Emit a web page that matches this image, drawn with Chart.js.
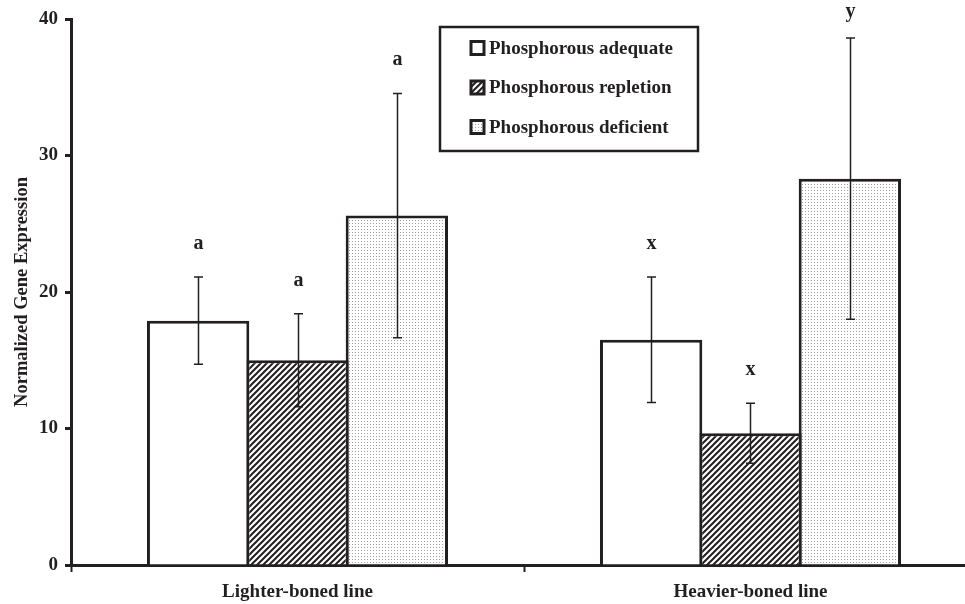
<!DOCTYPE html>
<html>
<head>
<meta charset="utf-8">
<script src="https://cdn.jsdelivr.net/npm/chart.js@4.4.1/dist/chart.umd.min.js"></script>
<style>
  html, body { margin: 0; padding: 0; background: #fff; overflow: hidden; }
  #wrap { width: 980px; height: 604px; }
</style>
</head>
<body>
<div id="wrap"><canvas id="geneChart" width="980" height="604"></canvas></div>
<script>
const categories = ["Lighter-boned line", "Heavier-boned line"];
const seriesNames = ["Phosphorous adequate", "Phosphorous repletion", "Phosphorous deficient"];
const adequateMeans = [17.9, 16.5];
const repletionMeans = [15.0, 9.65];
const deficientMeans = [25.6, 28.3];
const adequateErr = [3.2, 4.6];
const repletionErr = [3.4, 2.2];
const deficientErr = [8.95, 10.3];
const adequateLetters = ["a", "x"];
const repletionLetters = ["a", "x"];
const deficientLetters = ["a", "y"];
const yTicks = [0, 10, 20, 30, 40];

const ink = "#231f20";
const serif = "'Liberation Serif', 'DejaVu Serif', serif";

function makeHatch() {
    const c = document.createElement("canvas");
    c.width = 6; c.height = 6;
    const g = c.getContext("2d");
    g.fillStyle = "#fff";
    g.fillRect(0, 0, 6, 6);
    g.strokeStyle = ink;
    g.lineWidth = 2;
    g.beginPath();
    g.moveTo(-1, 7); g.lineTo(7, -1);
    g.moveTo(-1, 1); g.lineTo(1, -1);
    g.moveTo(5, 7); g.lineTo(7, 5);
    g.stroke();
    return document.createElement("canvas").getContext("2d").createPattern(c, "repeat");
}

function makeDots() {
    const c = document.createElement("canvas");
    c.width = 3; c.height = 3;
    const g = c.getContext("2d");
    g.fillStyle = "#fff";
    g.fillRect(0, 0, 3, 3);
    g.fillStyle = "rgba(0,0,0,0.38)";
    g.fillRect(1, 1, 1, 1);
    return document.createElement("canvas").getContext("2d").createPattern(c, "repeat");
}

const hatch = makeHatch();
const dots = makeDots();

const errorBars = {
    id: "errorBars",
    afterDatasetsDraw(chart) {
        const ctx = chart.ctx;
        const y = chart.scales.y;
        ctx.save();
        ctx.strokeStyle = ink;
        ctx.fillStyle = ink;
        ctx.lineWidth = 1.5;
        ctx.font = "bold 20px " + serif;
        ctx.textAlign = "center";
        ctx.textBaseline = "alphabetic";
        chart.data.datasets.forEach((ds, di) => {
            const meta = chart.getDatasetMeta(di);
            meta.data.forEach((bar, i) => {
                const hi = y.getPixelForValue(ds.data[i] + ds.err[i]);
                const lo = y.getPixelForValue(ds.data[i] - ds.err[i]);
                const x = Math.round(bar.x) + 0.5;
                ctx.beginPath();
                ctx.moveTo(x, hi); ctx.lineTo(x, lo);
                ctx.moveTo(x - 4.5, hi); ctx.lineTo(x + 4.5, hi);
                ctx.moveTo(x - 4.5, lo); ctx.lineTo(x + 4.5, lo);
                ctx.stroke();
                // keep the letter on the canvas when the bar reaches the top
                ctx.fillText(ds.letters[i], x, Math.max(hi - 28, 17));
            });
        });
        ctx.restore();
    }
};

const boxLegend = {
    id: "boxLegend",
    afterDraw(chart) {
        const ctx = chart.ctx;
        ctx.save();
        ctx.strokeStyle = ink;
        ctx.lineWidth = 2.5;
        ctx.fillStyle = "#fff";
        ctx.fillRect(440, 27, 258, 124);
        ctx.strokeRect(440, 27, 258, 124);
        ctx.font = "bold 19px " + serif;
        ctx.textBaseline = "middle";
        chart.data.datasets.forEach((ds, i) => {
            const cy = 48 + i * 39.5;
            ctx.fillStyle = ds.backgroundColor;
            ctx.fillRect(471, cy - 6.5, 13, 13);
            ctx.lineWidth = 3;
            ctx.strokeRect(471, cy - 6.5, 13, 13);
            ctx.fillStyle = ink;
            ctx.fillText(ds.label, 489, cy + 1);
        });
        ctx.restore();
    }
};

function series(label, data, err, letters, fill) {
    return {
        label: label,
        data: data,
        err: err,
        letters: letters,
        backgroundColor: fill,
        borderColor: ink,
        borderWidth: 3,
        borderSkipped: "bottom",
        categoryPercentage: 0.658,
        barPercentage: 1.03
    };
}

new Chart(document.getElementById("geneChart"), {
    type: "bar",
    data: {
        labels: categories,
        datasets: [
            series(seriesNames[0], adequateMeans, adequateErr, adequateLetters, "#fff"),
            series(seriesNames[1], repletionMeans, repletionErr, repletionLetters, hatch),
            series(seriesNames[2], deficientMeans, deficientErr, deficientLetters, dots)
        ]
    },
    options: {
        responsive: false,
        animation: false,
        layout: { padding: { top: 19, right: 3, left: 0, bottom: 0 } },
        plugins: {
            legend: { display: false },
            tooltip: { enabled: false }
        },
        scales: {
            x: {
                border: { display: true, color: ink, width: 3 },
                grid: {
                    display: true,
                    drawOnChartArea: false,
                    offset: true,
                    tickLength: 7,
                    tickWidth: 2,
                    tickColor: ink
                },
                ticks: {
                    color: ink,
                    padding: 9,
                    font: { family: serif, size: 19, weight: "bold" }
                },
                afterFit(scale) { scale.height = 39; }
            },
            y: {
                min: 0,
                max: 40,
                afterBuildTicks(scale) { scale.ticks = yTicks.map(v => ({ value: v })); },
                border: { display: true, color: ink, width: 3 },
                grid: {
                    display: true,
                    drawOnChartArea: false,
                    tickLength: 6,
                    tickWidth: 3,
                    tickColor: ink
                },
                ticks: {
                    color: ink,
                    padding: 7,
                    font: { family: serif, size: 19, weight: "bold" }
                },
                title: {
                    display: true,
                    text: "Normalized Gene Expression",
                    color: ink,
                    padding: { top: 11, bottom: 0 },
                    font: { family: serif, size: 18.5, weight: "bold" }
                },
                afterFit(scale) { scale.width = 71; }
            }
        }
    },
    plugins: [errorBars, boxLegend]
});
</script>
</body>
</html>
